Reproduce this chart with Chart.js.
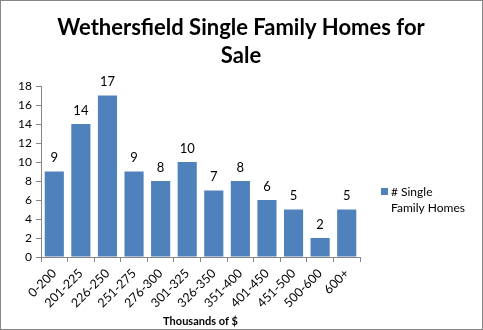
<!DOCTYPE html>
<html>
<head>
<meta charset="utf-8">
<script src="https://cdn.jsdelivr.net/npm/chart.js@4"></script>
<style>
  html, body { margin: 0; padding: 0; background: #fff; }
  #wrap { width: 481px; height: 328px; border: 1px solid #868686; }
</style>
</head>
<body>
<div id="wrap"><canvas id="homes" width="481" height="328"></canvas></div>
<script>
/* price bands (thousands of $) and listing counts */
const priceBands = ['0-200','201-225','226-250','251-275','276-300','301-325','326-350','351-400','401-450','451-500','500-600','600+'];
const homeCounts = [9, 14, 17, 9, 8, 10, 7, 8, 6, 5, 2, 5];
const yTicks = [0, 2, 4, 6, 8, 10, 12, 14, 16, 18];
const seriesName = '# Single Family Homes';
const titleLines = ['Wethersfield Single Family Homes for', 'Sale'];

const BLUE = '#4F81BD';
const AXIS = '#868686';
const FONT = 'Lato, "Open Sans", sans-serif';

/* title centred on the whole canvas, not just the plot */
const pageTitle = {
  id: 'pageTitle',
  afterDraw(chart) {
    const ctx = chart.ctx;
    ctx.save();
    ctx.font = 'bold 22px ' + FONT;
    ctx.fillStyle = '#000';
    ctx.textAlign = 'center';
    ctx.textBaseline = 'middle';
    titleLines.forEach((line, i) => ctx.fillText(line, 240, 27 + i * 28));
    ctx.restore();
  }
};

/* value labels above each bar */
const barValues = {
  id: 'barValues',
  afterDatasetsDraw(chart) {
    const ctx = chart.ctx;
    const meta = chart.getDatasetMeta(0);
    ctx.save();
    ctx.font = '13px ' + FONT;
    ctx.fillStyle = '#000';
    ctx.textAlign = 'center';
    ctx.textBaseline = 'bottom';
    meta.data.forEach((bar, i) => {
      ctx.fillText(String(homeCounts[i]), bar.x, bar.y - 7);
    });
    ctx.restore();
  }
};

/* legend on the right, wrapped onto two lines */
const sideLegend = {
  id: 'sideLegend',
  afterDraw(chart) {
    const ctx = chart.ctx;
    const ds = chart.data.datasets[0];
    const x = 380, y = 187;
    ctx.save();
    ctx.fillStyle = ds.backgroundColor;
    ctx.fillRect(x, y, 7, 7);
    ctx.font = '12px ' + FONT;
    ctx.fillStyle = '#000';
    ctx.textBaseline = 'middle';
    ctx.fillText('# Single', x + 10, y + 4);
    ctx.fillText('Family Homes', x + 10, y + 20);
    ctx.restore();
  }
};

new Chart(document.getElementById('homes'), {
  type: 'bar',
  data: {
    labels: priceBands,
    datasets: [{
      label: seriesName,
      data: homeCounts,
      backgroundColor: BLUE,
      borderWidth: 0,
      barPercentage: 0.72,
      categoryPercentage: 1
    }]
  },
  options: {
    responsive: false,
    animation: false,
    layout: { padding: { top: 85, right: 122, left: 0, bottom: 0 } },
    plugins: {
      legend: { display: false },
      tooltip: { enabled: false },
      title: { display: false }
    },
    scales: {
      x: {
        border: { color: AXIS },
        afterFit(scale) { scale.height = 72; },
        grid: { display: true, drawOnChartArea: false, drawTicks: true, tickLength: 5, color: AXIS },
        ticks: { color: '#000', font: { family: FONT, size: 12.5 }, minRotation: 45, maxRotation: 45, padding: 4 },
        title: { display: true, text: 'Thousands of $', color: '#000', font: { family: FONT, size: 11, weight: 'bold' }, padding: { top: 0, bottom: 1 } }
      },
      y: {
        min: 0,
        max: 18,
        border: { color: AXIS },
        afterBuildTicks(scale) { scale.ticks = yTicks.map(v => ({ value: v })); },
        afterFit(scale) { scale.width = 40; },
        grid: { display: true, drawOnChartArea: false, drawTicks: true, tickLength: 5, color: AXIS },
        ticks: { color: '#000', font: { family: FONT, size: 12 }, padding: 4 }
      }
    }
  },
  plugins: [pageTitle, barValues, sideLegend]
});
</script>
</body>
</html>
